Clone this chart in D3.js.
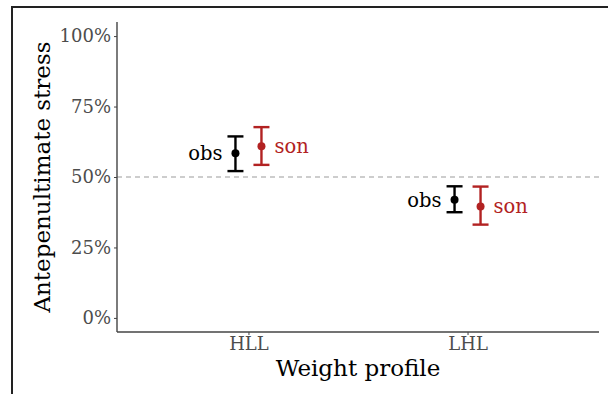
<!DOCTYPE html>
<html>
<head>
<meta charset="utf-8">
<script src="https://cdn.jsdelivr.net/npm/d3@7"></script>
<style>
  html, body { margin: 0; padding: 0; background: #fff; }
  svg { display: block; font-family: "DejaVu Serif", serif; }
</style>
</head>
<body>
<svg id="chart" width="608" height="394"></svg>
<script>
// Weight profiles on the x axis
const profiles = ["HLL", "LHL"];
// Sources compared within each profile
const sources = ["obs", "son"];
const sourceColors = ["#000000", "#b22222"];
// Proportion of antepenultimate stress, with interval bounds
const meanObs = [0.584, 0.419];
const lowerObs = [0.521, 0.375];
const upperObs = [0.644, 0.467];
const meanSon = [0.609, 0.395];
const lowerSon = [0.543, 0.331];
const upperSon = [0.677, 0.466];
const yTicks = [0, 0.25, 0.5, 0.75, 1];
const reference = 0.5;

const rows = [];
profiles.forEach((p, i) => {
  rows.push({ profile: p, source: "obs", mean: meanObs[i], lo: lowerObs[i], hi: upperObs[i] });
  rows.push({ profile: p, source: "son", mean: meanSon[i], lo: lowerSon[i], hi: upperSon[i] });
});

const svg = d3.select("#chart");
const plotLeft = 117, plotRight = 599, plotTop = 22, plotBottom = 332;

// Figure frame
svg.append("line").attr("x1", 12).attr("x2", 12).attr("y1", 7).attr("y2", 394)
  .attr("stroke", "#222").attr("stroke-width", 2);
svg.append("line").attr("x1", 11).attr("x2", 608).attr("y1", 7).attr("y2", 7)
  .attr("stroke", "#222").attr("stroke-width", 2);

// Discrete x with ggplot-like expansion (0.6 units each side)
const xPos = d3.scaleLinear().domain([0.4, profiles.length + 0.6]).range([plotLeft, plotRight]);
const x = p => xPos(profiles.indexOf(p) + 1);
const dodge = d3.scaleOrdinal().domain(sources).range([-13, 13]);
const color = d3.scaleOrdinal().domain(sources).range(sourceColors);

const y = d3.scaleLinear().domain([-0.05, 1.05]).range([plotBottom, plotTop]);

// Reference line at 50%
svg.append("line")
  .attr("x1", plotLeft).attr("x2", plotRight)
  .attr("y1", y(reference)).attr("y2", y(reference))
  .attr("stroke", "#bdbdbd").attr("stroke-width", 1.3).attr("stroke-dasharray", "5,4");

// Y axis
const yAxis = svg.append("g").attr("transform", `translate(${plotLeft},0)`)
  .call(d3.axisLeft(y).tickValues(yTicks).tickFormat(d3.format(".0%")).tickSize(3).tickPadding(3));
yAxis.select(".domain").attr("d", `M0,${plotTop}V${plotBottom}`).attr("stroke", "#444").attr("stroke-width", 1.4);
yAxis.selectAll(".tick line").attr("stroke", "#444");
yAxis.selectAll(".tick text").attr("fill", "#4d4d4d").attr("font-size", 18)
  .attr("font-family", "DejaVu Serif, serif");

// X axis
const xAxis = svg.append("g").attr("transform", `translate(0,${plotBottom})`)
  .call(d3.axisBottom(xPos).tickValues(profiles.map((p, i) => i + 1))
    .tickFormat((d) => profiles[d - 1]).tickSize(3).tickPadding(2));
xAxis.select(".domain").attr("d", `M${plotLeft},0H${plotRight}`).attr("stroke", "#444").attr("stroke-width", 1.4);
xAxis.selectAll(".tick line").attr("stroke", "#444");
xAxis.selectAll(".tick text").attr("fill", "#4d4d4d").attr("font-size", 18)
  .attr("font-family", "DejaVu Serif, serif");

// Axis titles
svg.append("text").attr("x", (plotLeft + plotRight) / 2).attr("y", 376)
  .attr("text-anchor", "middle").attr("font-size", 23).attr("fill", "#000")
  .text("Weight profile");
svg.append("text")
  .attr("transform", `translate(50,${(plotTop + plotBottom) / 2}) rotate(-90)`)
  .attr("text-anchor", "middle").attr("font-size", 23).attr("fill", "#000")
  .text("Antepenultimate stress");

// Error bars with caps and mean points
const g = svg.append("g");
const capHalf = 8;
const bars = g.selectAll("g.bar").data(rows).join("g").attr("class", "bar")
  .attr("stroke", d => color(d.source)).attr("fill", d => color(d.source));
bars.append("line")
  .attr("x1", d => x(d.profile) + dodge(d.source)).attr("x2", d => x(d.profile) + dodge(d.source))
  .attr("y1", d => y(d.lo)).attr("y2", d => y(d.hi)).attr("stroke-width", 2.4);
bars.append("line")
  .attr("x1", d => x(d.profile) + dodge(d.source) - capHalf).attr("x2", d => x(d.profile) + dodge(d.source) + capHalf)
  .attr("y1", d => y(d.lo)).attr("y2", d => y(d.lo)).attr("stroke-width", 2.4);
bars.append("line")
  .attr("x1", d => x(d.profile) + dodge(d.source) - capHalf).attr("x2", d => x(d.profile) + dodge(d.source) + capHalf)
  .attr("y1", d => y(d.hi)).attr("y2", d => y(d.hi)).attr("stroke-width", 2.4);
bars.append("circle")
  .attr("cx", d => x(d.profile) + dodge(d.source)).attr("cy", d => y(d.mean))
  .attr("r", 4).attr("stroke", "none");

// Source labels beside each bar
g.selectAll("text.lab").data(rows).join("text").attr("class", "lab")
  .attr("x", d => x(d.profile) + dodge(d.source) + (d.source === "obs" ? -13 : 13))
  .attr("y", d => y(d.mean))
  .attr("dy", "0.35em")
  .attr("text-anchor", d => d.source === "obs" ? "end" : "start")
  .attr("font-size", 19.5)
  .attr("fill", d => color(d.source))
  .text(d => d.source);
</script>
</body>
</html>
